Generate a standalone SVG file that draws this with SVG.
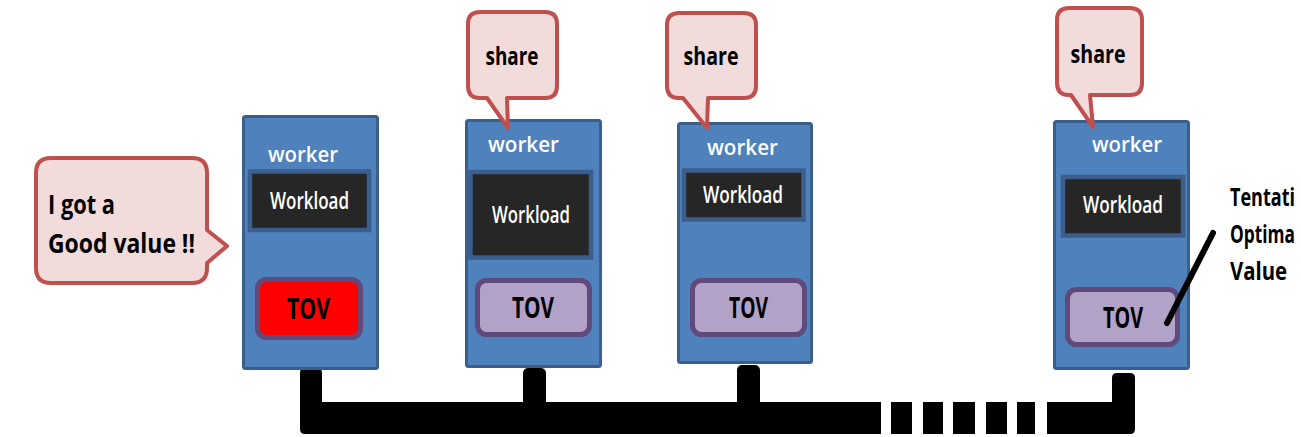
<svg xmlns="http://www.w3.org/2000/svg" width="1301" height="437" viewBox="0 0 1301 437">
  <style>
    .box { fill: #4f81bd; stroke: #3a5f8c; stroke-width: 3; }
    .load { fill: #262626; stroke: #3b5e8c; stroke-width: 4.5; }
    .tov { fill: #b3a2c7; stroke: #604a7b; stroke-width: 5; }
    .tov.hit { fill: #ff0000; }
    .bubble { fill: #f2dcdb; stroke: #c0504d; stroke-width: 4; stroke-linejoin: round; }
    .t { font-family: "Open Sans", "Noto Sans", "Liberation Sans", sans-serif; text-anchor: middle; }
    .w { fill: #ffffff; font-size: 22px; font-weight: 600; }
    .wl { fill: #ffffff; font-size: 23px; font-weight: 600; }
    .tv { fill: #000000; font-size: 28px; font-weight: 700; }
    .sh { fill: #000000; font-size: 25px; font-weight: 700; }
    .msg { font-family: "Open Sans", "Noto Sans", "Liberation Sans", sans-serif; fill: #000000; font-size: 26px; font-weight: 700; }
    .bus { fill: #000000; }
  </style>

  <!-- shared bus linking the workers -->
  <g id="connectors">
    <path class="bus" d="M300,373 Q300,368 305,368 H317 Q322,368 322,373 V402 H881 V434 H305 Q300,434 300,429 Z"/>
    <rect class="bus" x="523" y="368" width="23" height="40" rx="5"/>
    <rect class="bus" x="737" y="365" width="23" height="42" rx="5"/>
    <rect class="bus" x="891" y="402" width="21" height="32"/>
    <rect class="bus" x="923" y="402" width="20" height="32"/>
    <rect class="bus" x="953" y="402" width="22" height="32"/>
    <rect class="bus" x="986" y="402" width="21" height="32"/>
    <rect class="bus" x="1017" y="402" width="18" height="32"/>
    <path class="bus" d="M1047,402 H1112 V378 Q1112,373 1117,373 H1130 Q1135,373 1135,378 V429 Q1135,434 1130,434 H1047 Z"/>
  </g>

  <g id="worker1">
    <rect class="box" x="243.5" y="116.5" width="134" height="252" rx="2"/>
    <text class="t w" x="303" y="162" textLength="70" lengthAdjust="spacingAndGlyphs">worker</text>
    <rect class="load" x="250" y="171.5" width="119" height="58.5"/>
    <text class="t wl" x="309.5" y="209" textLength="79" lengthAdjust="spacingAndGlyphs">Workload</text>
    <rect class="tov hit" x="257.5" y="279.5" width="103" height="58" rx="9"/>
    <text class="t tv" x="308.5" y="319" textLength="43" lengthAdjust="spacingAndGlyphs">TOV</text>
  </g>

  <g id="worker2">
    <rect class="box" x="466.5" y="120.5" width="134" height="246" rx="2"/>
    <text class="t w" x="523.5" y="152" textLength="71" lengthAdjust="spacingAndGlyphs">worker</text>
    <rect class="load" x="470.5" y="172" width="120.5" height="85.5"/>
    <text class="t wl" x="531" y="223" textLength="78" lengthAdjust="spacingAndGlyphs">Workload</text>
    <rect class="tov" x="477.5" y="280.5" width="112" height="54" rx="9"/>
    <text class="t tv" x="533" y="318" textLength="42" lengthAdjust="spacingAndGlyphs">TOV</text>
  </g>

  <g id="worker3">
    <rect class="box" x="678.5" y="123.5" width="133" height="239" rx="2"/>
    <text class="t w" x="742.5" y="155" textLength="71" lengthAdjust="spacingAndGlyphs">worker</text>
    <rect class="load" x="684" y="170.5" width="119.5" height="49"/>
    <text class="t wl" x="743" y="203" textLength="80" lengthAdjust="spacingAndGlyphs">Workload</text>
    <rect class="tov" x="692.5" y="280.5" width="112" height="54" rx="9"/>
    <text class="t tv" x="748.5" y="318" textLength="39" lengthAdjust="spacingAndGlyphs">TOV</text>
  </g>

  <g id="worker4">
    <rect class="box" x="1054.5" y="121.5" width="134" height="247" rx="2"/>
    <text class="t w" x="1127" y="152" textLength="70" lengthAdjust="spacingAndGlyphs">worker</text>
    <rect class="load" x="1063" y="177" width="120" height="58.5"/>
    <text class="t wl" x="1123" y="213" textLength="80" lengthAdjust="spacingAndGlyphs">Workload</text>
    <rect class="tov" x="1067.5" y="289.5" width="110" height="55" rx="9"/>
    <text class="t tv" x="1123" y="328" textLength="40" lengthAdjust="spacingAndGlyphs">TOV</text>
  </g>

  <g id="bubble-good">
    <path class="bubble" d="M51,158 H192 Q207,158 207,173 V230 L227,246 L207,263 V268 Q207,283 192,283 H51 Q36,283 36,268 V173 Q36,158 51,158 Z"/>
    <text class="msg" x="48" y="214" textLength="67" lengthAdjust="spacingAndGlyphs">I got a</text>
    <text class="msg" x="48" y="253" textLength="147" lengthAdjust="spacingAndGlyphs">Good value !!</text>
  </g>

  <g id="bubble-share2">
    <path class="bubble" d="M480,12 H545 Q557,12 557,24 V86 Q557,98 545,98 H507 L508,128 L487,98 H480 Q468,98 468,86 V24 Q468,12 480,12 Z"/>
    <text class="t sh" x="512" y="65" textLength="53" lengthAdjust="spacingAndGlyphs">share</text>
  </g>

  <g id="bubble-share3">
    <path class="bubble" d="M679,13 H744 Q756,13 756,25 V86 Q756,98 744,98 H708 L707,128 L683,98 H679 Q667,98 667,86 V25 Q667,13 679,13 Z"/>
    <text class="t sh" x="711" y="65" textLength="55" lengthAdjust="spacingAndGlyphs">share</text>
  </g>

  <g id="bubble-share4">
    <path class="bubble" d="M1069,8 H1130 Q1142,8 1142,20 V83 Q1142,95 1130,95 H1090 L1093,127 L1071,95 H1069 Q1057,95 1057,83 V20 Q1057,8 1069,8 Z"/>
    <text class="t sh" x="1098" y="63" textLength="55" lengthAdjust="spacingAndGlyphs">share</text>
  </g>

  <g id="tov-label">
    <line x1="1167" y1="323" x2="1213" y2="233" stroke="#000000" stroke-width="6" stroke-linecap="round"/>
    <text class="msg" x="1230" y="206" style="font-size:25px" textLength="65" lengthAdjust="spacingAndGlyphs">Tentati</text>
    <text class="msg" x="1230" y="243" style="font-size:25px" textLength="65" lengthAdjust="spacingAndGlyphs">Optima</text>
    <text class="msg" x="1230" y="280" style="font-size:25px" textLength="57" lengthAdjust="spacingAndGlyphs">Value</text>
  </g>
</svg>
